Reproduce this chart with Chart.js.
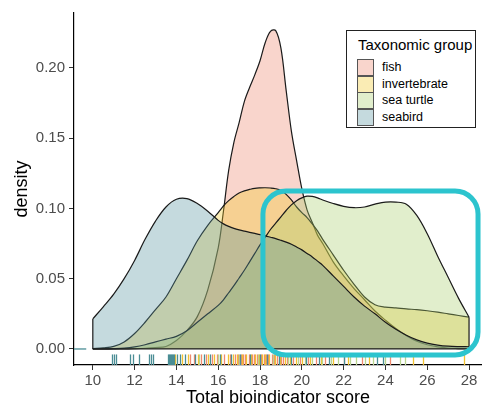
<!DOCTYPE html>
<html lang="en">
<head>
    <meta charset="UTF-8">
    <title>Total bioindicator score by taxonomic group</title>
    <script src="https://cdn.jsdelivr.net/npm/chart.js"></script>
    <style>
        body {
            margin: 0;
            background: #fff;
            font-family: 'Liberation Sans', Arial, sans-serif;
        }

        .wrap {
            position: relative;
            width: 482px;
            height: 410px;
        }

        .legend {
            position: absolute;
            left: 346px;
            top: 30px;
            width: 130px;
            height: 98px;
            box-sizing: border-box;
            border: 1px solid #222;
            background: #fff;
        }

        .legend .title {
            position: absolute;
            left: 11px;
            top: 5px;
            font-size: 15px;
            line-height: 18px;
            color: #000;
            white-space: nowrap;
        }

        .legend .key {
            position: absolute;
            left: 10px;
            width: 17px;
            height: 17px;
            box-sizing: border-box;
            border: 1px solid #555;
        }

        .legend .label {
            position: absolute;
            left: 35px;
            font-size: 12.5px;
            line-height: 17px;
            color: #000;
            white-space: nowrap;
        }
    </style>
</head>
<body>

<div class="wrap">
    <canvas id="chart" width="482" height="410"></canvas>
    <div class="legend" id="legend"></div>
</div>

<script>
    // groups, in drawing order (seabird ends up on top)
    const groups = ['fish', 'invertebrate', 'sea turtle', 'seabird'];

    // x positions where the densities were read
    const scoreGrid = [10, 10.5, 11, 11.5, 12, 12.5, 13, 13.5, 14, 14.5, 15, 15.5,
        16, 16.25, 16.5, 16.75, 17, 17.25, 17.5, 17.75, 18, 18.25, 18.5, 18.75,
        19, 19.25, 19.5, 19.75, 20, 20.25, 20.5, 20.75, 21,
        21.5, 22, 22.5, 23, 23.5, 24, 24.5, 25, 25.5, 26, 26.5, 27, 27.5, 28];

    const fishDensity = [0, 0, 0, 0, 0.0002, 0.0005, 0.001, 0.0018, 0.006, 0.013, 0.023, 0.042,
        0.072, 0.098, 0.127, 0.147, 0.161, 0.176, 0.186, 0.195, 0.205, 0.218, 0.226, 0.2265,
        0.214, 0.184, 0.155, 0.134, 0.114, 0.099, 0.09, 0.081, 0.075,
        0.062, 0.052, 0.043, 0.035, 0.027, 0.0205, 0.0145, 0.0095, 0.0055, 0.003, 0.0015, 0.0007, 0.0003, 0.0001];

    const invertebrateDensity = [0.0003, 0.0008, 0.0018, 0.005, 0.011, 0.019, 0.028, 0.037, 0.05, 0.063, 0.077, 0.088,
        0.097, 0.1017, 0.1055, 0.1085, 0.111, 0.1125, 0.1135, 0.1143, 0.1146, 0.1147, 0.1145, 0.114,
        0.1128, 0.11, 0.106, 0.101, 0.097, 0.0935, 0.089, 0.084, 0.078,
        0.067, 0.056, 0.046, 0.037, 0.0315, 0.0298, 0.0292, 0.0285, 0.028, 0.0272, 0.0262, 0.025, 0.0238, 0.0226];

    const seaTurtleDensity = [0, 0, 0.0002, 0.0006, 0.0015, 0.003, 0.005, 0.007, 0.009, 0.013, 0.019, 0.025,
        0.031, 0.035, 0.04, 0.045, 0.0505, 0.056, 0.062, 0.068, 0.074, 0.0795, 0.085, 0.0895,
        0.094, 0.0985, 0.1025, 0.1055, 0.1075, 0.1087, 0.1085, 0.1075, 0.106,
        0.1035, 0.1015, 0.1005, 0.101, 0.103, 0.1045, 0.1045, 0.103, 0.095, 0.082, 0.066, 0.051, 0.036, 0.0226];

    const seabirdDensity = [0.0214, 0.03, 0.039, 0.05, 0.063, 0.078, 0.091, 0.101, 0.1065, 0.107, 0.1035, 0.098,
        0.0915, 0.089, 0.0872, 0.0858, 0.0847, 0.0838, 0.083, 0.0822, 0.0814, 0.0805, 0.0795, 0.0785,
        0.0773, 0.076, 0.0745, 0.0725, 0.0705, 0.068, 0.0655, 0.0625, 0.0595,
        0.052, 0.0445, 0.037, 0.0305, 0.025, 0.019, 0.014, 0.0098, 0.0065, 0.0042, 0.0028, 0.002, 0.0017, 0.0016];

    // individual scores shown as rug marks
    const fishScores = [14.65, 14.85, 15.2, 15.4, 15.7, 15.95, 16.3, 16.55, 16.8, 16.95, 17.1, 17.2, 17.3,
        17.45, 17.6, 17.7, 17.85, 18.05, 18.2, 18.3, 18.4, 18.55, 18.65, 18.8, 19.0, 19.1, 19.3,
        19.6, 19.9, 20.3, 20.7, 21.1, 22.0, 22.9, 24.2];
    const invertebrateScores = [13.95, 14.25, 14.55, 15.05, 15.5, 15.8, 16.15, 16.45, 16.7, 16.9, 17.15,
        17.35, 17.55, 17.75, 17.95, 18.1, 18.25, 18.45, 18.7, 18.95, 19.2, 19.45, 19.7, 20.0, 20.4,
        20.9, 21.5, 22.2, 23.2, 25.3, 25.8, 27.75];
    const seaTurtleScores = [15.1, 16.0, 17.0, 17.9, 18.6, 19.35, 19.8, 20.15, 20.5, 20.95, 21.4, 21.75,
        22.3, 22.6, 23.0, 23.4, 24.0, 24.7, 24.95];
    const seabirdScores = [10.9, 11.0, 11.1, 11.8, 11.9, 12.2, 12.7, 12.8, 12.9, 13.6, 13.65, 13.7, 13.75,
        13.8, 13.85, 13.9, 14.05, 14.15, 14.4, 14.9, 15.3, 15.6, 16.1, 16.6, 17.05, 17.5, 18.0, 18.35,
        18.9, 19.5, 20.2, 20.8, 21.3, 22.0, 23.6, 23.9];

    const xTicks = [10, 12, 14, 16, 18, 20, 22, 24, 26, 28];
    const yTicks = [0, 0.05, 0.1, 0.15, 0.2];

    const densities = [fishDensity, invertebrateDensity, seaTurtleDensity, seabirdDensity];
    const scores = [fishScores, invertebrateScores, seaTurtleScores, seabirdScores];

    const baseColors = ['238,136,110', '240,200,40', '170,205,110', '90,150,160'];
    const rugColors = ['#ef8a6f', '#f2c230', '#b9d58f', '#4b8d95'];
    const fillAlpha = 0.35;
    const outline = '#1a1a1a';

    // highlighted region drawn over the plot (data units)
    const highlight = { xMin: 18.14, xMax: 28.43, yMin: -0.0042, yMax: 0.1124 };

    const datasets = groups.map((g, i) => ({
        label: g,
        data: scoreGrid.map((x, j) => ({ x: x, y: densities[i][j] })),
        backgroundColor: `rgba(${baseColors[i]},${fillAlpha})`,
        borderColor: outline,
        borderWidth: 1.2,
        pointRadius: 0,
        fill: 'origin',
        tension: 0.35,
        order: groups.length - i
    }));

    const rugPlugin = {
        id: 'rug',
        afterDatasetsDraw(chart) {
            const { ctx, chartArea: a, scales: { x, y } } = chart;
            const y0 = y.getPixelForValue(0);
            const first = scoreGrid[0];
            const last = scoreGrid[scoreGrid.length - 1];
            ctx.save();

            // rest of each density polygon outline: the baseline and the two ends
            ctx.strokeStyle = outline;
            ctx.lineWidth = 1.2;
            ctx.beginPath();
            ctx.moveTo(x.getPixelForValue(first), y0);
            ctx.lineTo(x.getPixelForValue(last), y0);
            densities.forEach(d => {
                ctx.moveTo(x.getPixelForValue(first), y0);
                ctx.lineTo(x.getPixelForValue(first), y.getPixelForValue(d[0]));
                ctx.moveTo(x.getPixelForValue(last), y0);
                ctx.lineTo(x.getPixelForValue(last), y.getPixelForValue(d[d.length - 1]));
            });
            ctx.stroke();

            // rug along the x axis
            const len = (a.bottom - a.top) * 0.03;
            ctx.lineWidth = 1.3;
            scores.forEach((vals, i) => {
                ctx.strokeStyle = rugColors[i];
                vals.forEach(v => {
                    const px = Math.round(x.getPixelForValue(v)) + 0.5;
                    ctx.beginPath();
                    ctx.moveTo(px, a.bottom);
                    ctx.lineTo(px, a.bottom - len);
                    ctx.stroke();
                });
            });

            // rug along the y axis (every y is 0)
            const lenX = (a.right - a.left) * 0.03;
            ctx.strokeStyle = rugColors[rugColors.length - 1];
            ctx.beginPath();
            ctx.moveTo(a.left, y0);
            ctx.lineTo(a.left + lenX, y0);
            ctx.stroke();
            ctx.restore();
        },
        afterDraw(chart) {
            const { ctx, scales: { x, y } } = chart;
            const x1 = x.getPixelForValue(highlight.xMin);
            const x2 = x.getPixelForValue(highlight.xMax);
            const y1 = y.getPixelForValue(highlight.yMax);
            const y2 = y.getPixelForValue(highlight.yMin);
            ctx.save();
            ctx.strokeStyle = '#2cc4ce';
            ctx.lineWidth = 5;
            ctx.beginPath();
            ctx.roundRect(x1, y1, x2 - x1, y2 - y1, 23);
            ctx.stroke();
            ctx.restore();
        }
    };

    const tickFont = { family: "'Liberation Sans', Arial, sans-serif", size: 15 };
    const titleFont = { family: "'Liberation Sans', Arial, sans-serif", size: 18, lineHeight: 1.2 };

    new Chart(document.getElementById('chart'), {
        type: 'line',
        data: { datasets: datasets },
        plugins: [rugPlugin],
        options: {
            responsive: false,
            animation: false,
            devicePixelRatio: 1,
            layout: { padding: { top: 7, left: 0, right: 0, bottom: 0 } },
            plugins: {
                legend: { display: false },
                tooltip: { enabled: false }
            },
            scales: {
                x: {
                    type: 'linear',
                    min: 9.1,
                    max: 28.62,
                    afterBuildTicks: s => { s.ticks = xTicks.map(v => ({ value: v })); },
                    afterFit: s => { s.height = 45; },
                    ticks: {
                        autoSkip: false,
                        maxRotation: 0,
                        padding: 2,
                        color: '#4d4d4d',
                        font: tickFont,
                        callback: v => String(v)
                    },
                    grid: { display: true, drawOnChartArea: false, drawTicks: true, tickLength: 5, tickColor: '#333', tickWidth: 1 },
                    border: { display: true, color: '#000', width: 1.2 },
                    title: {
                        display: true,
                        text: 'Total bioindicator score',
                        color: '#000',
                        font: titleFont,
                        padding: { top: 0, bottom: 1 }
                    }
                },
                y: {
                    type: 'linear',
                    min: -0.0114,
                    max: 0.239,
                    afterBuildTicks: s => { s.ticks = yTicks.map(v => ({ value: v })); },
                    afterFit: s => { s.width = 74; },
                    ticks: {
                        autoSkip: false,
                        padding: 4,
                        color: '#4d4d4d',
                        font: tickFont,
                        callback: v => v.toFixed(2)
                    },
                    grid: { display: true, drawOnChartArea: false, drawTicks: true, tickLength: 5, tickColor: '#333', tickWidth: 1 },
                    border: { display: true, color: '#000', width: 1.2 },
                    title: {
                        display: true,
                        text: 'density',
                        color: '#000',
                        font: titleFont,
                        padding: { top: 11, bottom: 0 }
                    }
                }
            }
        }
    });

    // legend box
    const legend = document.getElementById('legend');
    legend.innerHTML = '<div class="title">Taxonomic group</div>';
    groups.forEach((g, i) => {
        const top = 28 + i * 16.6;
        const key = document.createElement('div');
        key.className = 'key';
        key.style.top = top + 'px';
        key.style.background = `rgba(${baseColors[i]},${fillAlpha})`;
        legend.appendChild(key);
        const label = document.createElement('div');
        label.className = 'label';
        label.style.top = top + 'px';
        label.textContent = g;
        legend.appendChild(label);
    });
</script>

</body>
</html>
